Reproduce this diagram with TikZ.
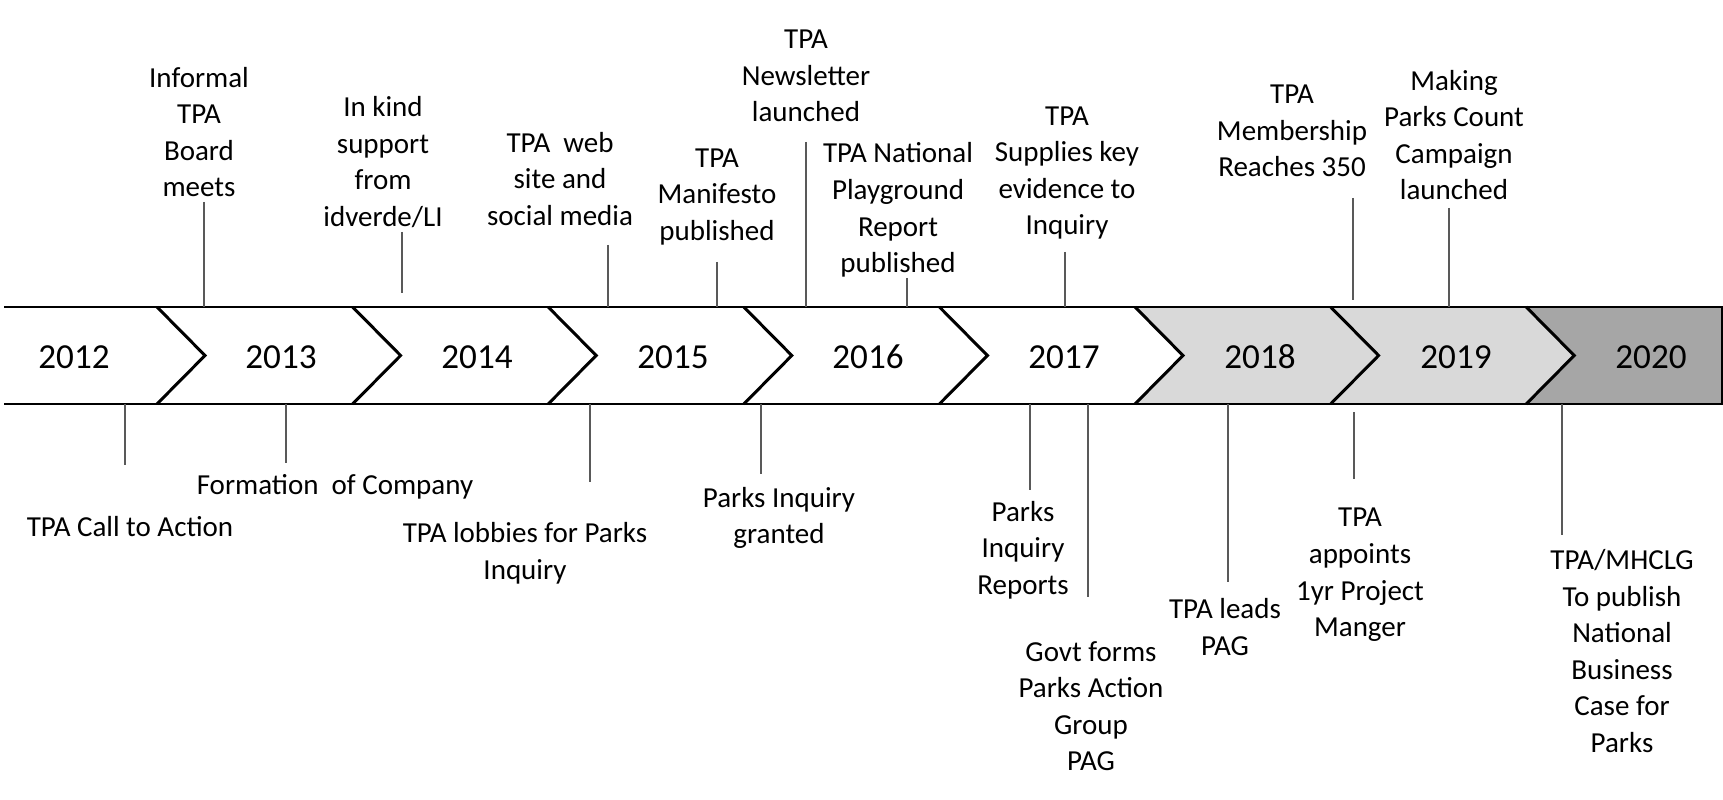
\documentclass[tikz,border=0pt]{standalone}
\usepackage{fontspec}
\setmainfont{Carlito}

\begin{document}
\begin{tikzpicture}[x=0.02cm,y=-0.02cm,
  ev/.style={align=center,inner sep=0pt,font=\fontsize{16.5}{20.8}\selectfont},
  yr/.style={inner sep=0pt,font=\fontsize{20}{24}\selectfont},
  tick/.style={draw=black!65,line width=0.85pt},
  band/.style={line width=1.7pt,line join=miter}]
  \useasboundingbox (0,0) rectangle (1723,800);

  % shaded years
  \fill[black!15] (1135,307) -- (1331,307) -- (1379,355.5) -- (1331,404) -- (1135,404) -- (1183,355.5) -- cycle;
  \fill[black!15] (1331,307) -- (1526,307) -- (1574,355.5) -- (1526,404) -- (1331,404) -- (1379,355.5) -- cycle;
  \fill[black!35] (1526,307) -- (1722,307) -- (1722,404) -- (1526,404) -- (1574,355.5) -- cycle;

  % chevron edges and band
  \foreach \t in {205,400.6,596.2,791.8,987.4,1183,1378.6,1574.2}
    \draw[band] (\t-48,307) -- (\t,355.5) -- (\t-48,404);
  \draw[band] (4,307) -- (1722,307) -- (1722,404) -- (4,404);

  \node[yr] (y12) at (74,357) {2012};
  \node[yr] (y13) at (281,357) {2013};
  \node[yr] (y14) at (477,357) {2014};
  \node[yr] (y15) at (673,357) {2015};
  \node[yr] (y16) at (868,357) {2016};
  \node[yr] (y17) at (1064,357) {2017};
  \node[yr] (y18) at (1260,357) {2018};
  \node[yr] (y19) at (1456,357) {2019};
  \node[yr] (y20) at (1651,357) {2020};

  % above the band
  \node[ev] (inf) at (199,132) {Informal\\TPA\\Board\\meets};
  \node[ev] (kind) at (383,162) {In kind\\support\\from\\idverde/LI};
  \node[ev] (web) at (560,179) {TPA\ \ web\\site and\\social media};
  \node[ev] (mani) at (717,197) {TPA\\Manifesto\\published};
  \node[ev] (news) at (806,76) {TPA\\Newsletter\\launched};
  \node[ev] (play) at (898,210) {TPA National\\Playground\\Report\\published};
  \node[ev] (evid) at (1067,173) {TPA\\Supplies key\\evidence to\\Inquiry};
  \node[ev] (memb) at (1292,131) {TPA\\Membership\\Reaches 350};
  \node[ev] (mpc) at (1454,135) {Making\\Parks Count\\Campaign\\launched};

  % below the band
  \node[ev] (call) at (130,527) {TPA Call to Action};
  \node[ev] (form) at (335,487) {Formation\ \ of Company};
  \node[ev] (lobby) at (525,553) {TPA lobbies for Parks\\Inquiry};
  \node[ev] (grant) at (779,518) {Parks Inquiry\\granted};
  \node[ev] (rep) at (1023,550) {Parks\\Inquiry\\Reports};
  \node[ev] (govt) at (1091,706) {Govt forms\\Parks Action\\Group\\PAG};
  \node[ev] (lead) at (1225,627) {TPA leads\\PAG};
  \node[ev] (appt) at (1360,575) {TPA\\appoints\\1yr Project\\Manger};
  \node[ev] (case) at (1622,651) {TPA/MHCLG\\To publish\\National\\Business\\Case for\\Parks};

  % ticks
  \foreach \n/\x/\ya/\yb in {inf/204/202/307, kind/402/232/293, web/608/245/307,
      mani/717/262/307, news/806/142/307, play/907/278/307, evid/1065/252/307,
      memb/1353/198/300, mpc/1449/208/307, call/125/404/465, form/286/404/463,
      lobby/590/404/482, grant/761/404/474, rep/1030/404/490, govt/1088/404/597,
      lead/1228/404/582, appt/1354/412/479, case/1562/404/535} {
    \coordinate (\n-a) at (\x,\ya);
    \coordinate (\n-b) at (\x,\yb);
    \draw[tick] (\n-a) -- (\n-b);
  }
\end{tikzpicture}
\end{document}
